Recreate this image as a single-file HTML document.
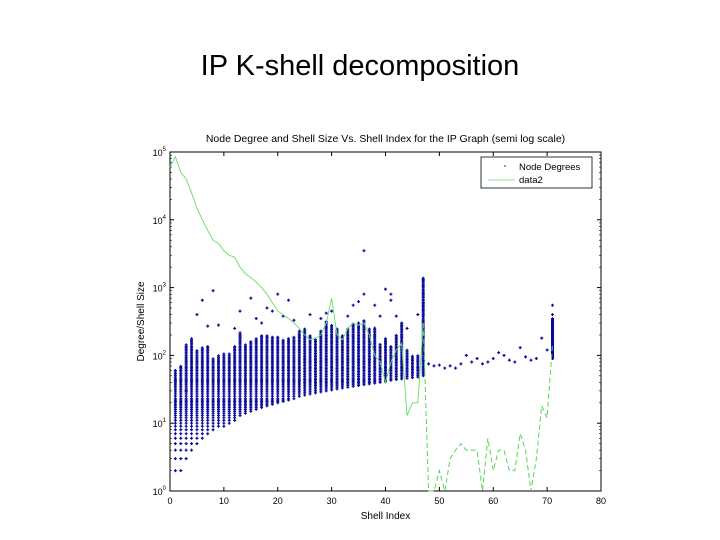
<!DOCTYPE html>
<html><head><meta charset="utf-8">
<style>
body{margin:0;background:#fff;}
#wrap{position:relative;width:720px;height:540px;overflow:hidden;font-family:"Liberation Sans",sans-serif;}
#main-title{position:absolute;left:0;width:720px;top:50px;text-align:center;font-size:29px;color:#000;}
svg{position:absolute;left:0;top:0;}
</style></head>
<body>
<div id="wrap">
<div id="main-title">IP K-shell decomposition</div>
<svg id="chart" width="720" height="540"></svg>
</div>
<script>
const shells = [1,2,3,4,5,6,7,8,9,10,11,12,13,14,15,16,17,18,19,20,21,22,23,24,25,26,27,28,29,30,31,32,33,34,35,36,37,38,39,40,41,42,43,44,45,46,47];
const degMin = [2,2,3,4,5,6,7,8,9,9,10,11,13,14,15,16,17,18,19,20,21,22,23,25,26,27,28,29,30,31,32,33,34,35,36,37,38,39,40,41,43,44,45,46,47,48,50];
const degMax = [60,70,150,180,120,130,140,90,100,110,105,140,220,150,160,180,200,200,190,190,170,180,190,230,250,200,170,230,320,280,250,200,250,300,300,330,250,260,150,180,140,200,300,120,100,100,1400];
const outShell = [2,3,5,6,7,8,9,12,13,15,16,17,18,19,20,21,22,23,26,28,29,30,33,34,35,36,36,38,39,40,41,41,42,43,44,46,47,48,49,50,51,52,53,54,55,56,57,58,59,60,61,62,63,64,65,66,67,68,69,70,71,71];
const outDeg = [20,30,400,650,270,900,280,250,450,700,350,300,500,450,800,380,650,330,400,350,420,450,380,550,620,3500,800,550,380,950,650,800,380,300,250,400,600,75,70,72,65,70,65,75,100,80,90,75,80,90,110,100,85,80,130,95,85,90,180,120,550,400];
const extraShell = [71,71];
const extraDeg = [90,350];
const sizeShell = [0,1,2,3,4,5,6,7,8,9,10,11,12,13,14,15,16,17,18,19,20,21,22,23,24,25,26,27,28,29,30,31,32,33,34,35,36,37,38,39,40,41,42,43,44,45,46,47,48,49,50,51,52,53,54,55,56,57,58,59,60,61,62,63,64,65,66,67,68,69,70,71];
const sizeVal = [60000,85000,50000,40000,25000,15000,10000,7000,5000,4500,3500,3000,2800,2000,1600,1400,1200,1000,800,600,450,400,350,300,250,200,170,180,200,300,700,200,170,250,300,280,300,200,100,80,40,80,120,150,13,20,20,300,1,0.6,2,0.6,3,4,5,4,4,4,1,6,2,4,4,2,2,7,4,0.6,3,18,12,150];
const xTicks = [0,10,20,30,40,50,60,70,80];
const yTicks = [0,1,2,3,4,5];

const NS="http://www.w3.org/2000/svg";
const svg=document.getElementById('chart');
const L=170,R=601,T=152,B=491;
const xS=v=>L+(v-0)/(80-0)*(R-L);
const yS=v=>{const lv=Math.log10(Math.max(v,1));return B-(lv/5)*(B-T);};
function mk(tag,attrs,parent){const e=document.createElementNS(NS,tag);for(const k in attrs)e.setAttribute(k,attrs[k]);(parent||svg).appendChild(e);return e;}

const bg=mk('rect',{x:L,y:T,width:R-L,height:B-T,fill:'#fff',stroke:'#000','stroke-width':1});



const ct=mk('text',{x:(L+R)/2,y:142,'text-anchor':'middle','font-size':10.5,fill:'#000'});
ct.textContent='Node Degree and Shell Size Vs. Shell Index for the IP Graph (semi log scale)';



xTicks.forEach(t=>{
  const x=xS(t);
  const tk=mk('line',{x1:x,x2:x,y1:B,y2:B-4,stroke:'#000'});
  
  
  mk('line',{x1:x,x2:x,y1:T,y2:T+4,stroke:'#000'});
  const lb=mk('text',{x:x,y:B+13,'text-anchor':'middle','font-size':9});
  lb.textContent=String(t);
  
  
});
yTicks.forEach(t=>{
  const y=yS(Math.pow(10,t));
  const tk=mk('line',{x1:L,x2:L+4,y1:y,y2:y,stroke:'#000'});
  
  
  mk('line',{x1:R,x2:R-4,y1:y,y2:y,stroke:'#000'});
  const lb=mk('text',{x:L-4,y:y+4,'text-anchor':'end','font-size':9});
  
  
  lb.appendChild(document.createTextNode('10'));
  const s=mk('tspan',{dy:-5,'font-size':6},lb);s.textContent=String(t);
  if(t<5){for(let m=2;m<10;m++){const yy=yS(m*Math.pow(10,t));mk('line',{x1:L,x2:L+2,y1:yy,y2:yy,stroke:'#000','stroke-width':0.6});mk('line',{x1:R,x2:R-2,y1:yy,y2:yy,stroke:'#000','stroke-width':0.6});}}
});
const xl=mk('text',{x:(L+R)/2,y:519,'text-anchor':'middle','font-size':10});
xl.textContent='Shell Index';


const yl=mk('text',{x:0,y:0,'text-anchor':'middle','font-size':10,transform:'translate(144,'+((T+B)/2)+') rotate(-90)'});
yl.textContent='Degree/Shell Size';



const gp=mk('g',{stroke:'#0a0a9a','stroke-width':1.2});


function plus(x,y,s){mk('path',{d:`M${x-s},${y}h${2*s}M${x},${y-s}v${2*s}`},gp);}
shells.forEach((k,i)=>{
  const x=xS(k);
  let lastY=1e9;
  for(let d=degMin[i];d<=degMax[i];d=Math.max(d+1,Math.round(d*1.015))){
    const y=yS(d);
    if(lastY-y>=1.3){plus(x,y,1.5);lastY=y;}
  }
});
outShell.forEach((k,i)=>plus(xS(k),yS(outDeg[i]),1.5));
extraShell.forEach((k,i)=>{for(let d=extraDeg[0];d<=extraDeg[1];d=Math.round(d*1.03)+1)plus(xS(k),yS(d),1.5);});

const pts=sizeShell.map((k,i)=>[xS(k),Math.min(B,yS(sizeVal[i]))]);
const ln1=mk('polyline',{points:pts.slice(0,48).map(p=>p.join(',')).join(' '),fill:'none',stroke:'#66dd66','stroke-width':0.9});


const ln2=mk('polyline',{points:pts.slice(47).map(p=>p.join(',')).join(' '),fill:'none',stroke:'#55d555','stroke-width':1,'stroke-dasharray':'5,3'});



const lg=mk('g',{});


mk('rect',{x:481,y:157,width:111,height:31,fill:'#fff',stroke:'#000','stroke-width':0.8},lg);
mk('circle',{cx:505,cy:166,r:0.8,fill:'#1a1aa0'},lg);
const t1=mk('text',{x:519,y:170,'font-size':9.5},lg);t1.textContent='Node Degrees';
mk('line',{x1:488,x2:515,y1:180,y2:180,stroke:'#66dd66','stroke-width':0.8},lg);
const t2=mk('text',{x:519,y:183,'font-size':9.5},lg);t2.textContent='data2';
</script>
</body></html>
